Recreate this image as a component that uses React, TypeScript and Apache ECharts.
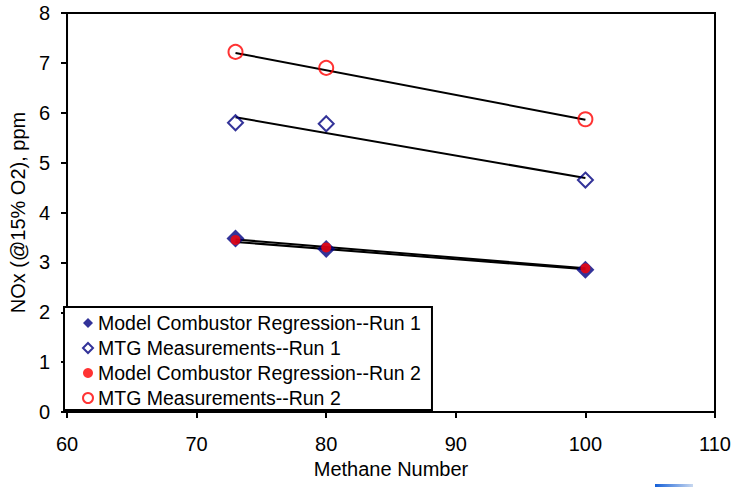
import React, { useEffect, useRef } from "react";
import * as echarts from "echarts";

const methane = [73, 80, 100];
const modelRun1 = [3.48, 3.27, 2.85];
const mtgRun1 = [5.8, 5.78, 4.65];
const modelRun2 = [3.45, 3.3, 2.88];
const mtgRun2 = [7.22, 6.9, 5.87];

const fitX = [73, 100];
const fitModelRun1 = [3.46, 2.88];
const fitMtgRun1 = [5.91, 4.69];
const fitModelRun2 = [3.41, 2.86];
const fitMtgRun2 = [7.2, 5.86];

const xTicks = [60, 70, 80, 90, 100, 110];
const yTicks = [0, 1, 2, 3, 4, 5, 6, 7, 8];

const names = [
  "Model Combustor Regression--Run 1",
  "MTG Measurements--Run 1",
  "Model Combustor Regression--Run 2",
  "MTG Measurements--Run 2",
];

const FONT = "'Liberation Sans', Arial, sans-serif";
const NAVY = "#000080";
const RED = "#ff0000";

const pts = (xs: number[], ys: number[]) => xs.map((x, i) => [x, ys[i]]);

export default function App() {
  const ref = useRef<HTMLDivElement>(null);
  useEffect(() => {
    if (!ref.current) return;
    const chart = echarts.init(ref.current, undefined, { renderer: "svg" });
    const fitLine = (ys: number[]) => ({
      type: "line",
      data: pts(fitX, ys),
      symbol: "none",
      lineStyle: { color: "#000", width: 2 },
      silent: true,
      z: 1,
    });
    chart.setOption({
      animation: false,
      backgroundColor: "#fff",
      textStyle: { fontFamily: FONT },
      grid: {
        left: 61,
        right: 22,
        top: 13,
        bottom: 75,
        show: true,
        borderColor: "#000",
        borderWidth: 2,
      },
      xAxis: {
        type: "value",
        min: xTicks[0],
        max: xTicks[xTicks.length - 1],
        interval: 10,
        name: "Methane Number",
        nameLocation: "middle",
        nameGap: 47,
        nameTextStyle: { fontSize: 20, color: "#000", fontFamily: FONT },
        axisLine: { lineStyle: { color: "#000", width: 2 } },
        axisTick: { show: true, length: 6, lineStyle: { color: "#000", width: 2 } },
        axisLabel: { fontSize: 20, color: "#000", margin: 22, fontFamily: FONT },
        splitLine: { show: false },
      },
      yAxis: {
        type: "value",
        min: yTicks[0],
        max: yTicks[yTicks.length - 1],
        interval: 1,
        name: "NOx (@15% O2), ppm",
        nameLocation: "middle",
        nameRotate: 90,
        nameGap: 27,
        nameTextStyle: { fontSize: 20, color: "#000", fontFamily: FONT },
        axisLine: { lineStyle: { color: "#000", width: 2 } },
        axisTick: { show: true, length: 6, lineStyle: { color: "#000", width: 2 } },
        axisLabel: { fontSize: 20, color: "#000", margin: 17, fontFamily: FONT },
        splitLine: { show: false },
      },
      legend: {
        orient: "vertical",
        left: 64,
        top: 307,
        padding: [6, 11, 2, 18],
        itemGap: 5,
        itemWidth: 10,
        itemHeight: 10,
        backgroundColor: "#fff",
        borderColor: "#000",
        borderWidth: 2,
        textStyle: { fontSize: 19.5, color: "#000", lineHeight: 20, fontFamily: FONT },
        data: [
          { name: names[0], icon: "diamond", itemStyle: { color: NAVY } },
          { name: names[1], icon: "diamond", itemStyle: { color: "#fff", borderColor: NAVY, borderWidth: 2 } },
          { name: names[2], icon: "circle", itemStyle: { color: RED } },
          { name: names[3], icon: "circle", itemStyle: { color: "#fff", borderColor: RED, borderWidth: 2 } },
        ],
      },
      graphic: [
        {
          type: "rect",
          left: 655,
          top: 484,
          shape: { width: 38, height: 3 },
          style: {
            fill: new echarts.graphic.LinearGradient(0, 0, 1, 0, [
              { offset: 0, color: "#1560d8" },
              { offset: 1, color: "#c8d8f0" },
            ]),
          },
        },
      ],
      series: [
        fitLine(fitModelRun1),
        fitLine(fitMtgRun1),
        fitLine(fitModelRun2),
        fitLine(fitMtgRun2),
        {
          name: names[0],
          type: "scatter",
          data: pts(methane, modelRun1),
          symbol: "diamond",
          symbolSize: 18,
          itemStyle: { color: NAVY },
          z: 2,
        },
        {
          name: names[1],
          type: "scatter",
          data: pts(methane, mtgRun1),
          symbol: "diamond",
          symbolSize: 15,
          itemStyle: { color: "rgba(255,255,255,0)", borderColor: NAVY, borderWidth: 2 },
          z: 2,
        },
        {
          name: names[2],
          type: "scatter",
          data: pts(methane, modelRun2),
          symbol: "circle",
          symbolSize: 10,
          itemStyle: { color: RED },
          z: 3,
        },
        {
          name: names[3],
          type: "scatter",
          data: pts(methane, mtgRun2),
          symbol: "circle",
          symbolSize: 14,
          itemStyle: { color: "rgba(255,255,255,0)", borderColor: RED, borderWidth: 2 },
          z: 2,
        },
      ],
    });
    return () => chart.dispose();
  }, []);
  return <div ref={ref} style={{ width: 737, height: 487, position: "absolute", left: 0, top: 0 }} />;
}
